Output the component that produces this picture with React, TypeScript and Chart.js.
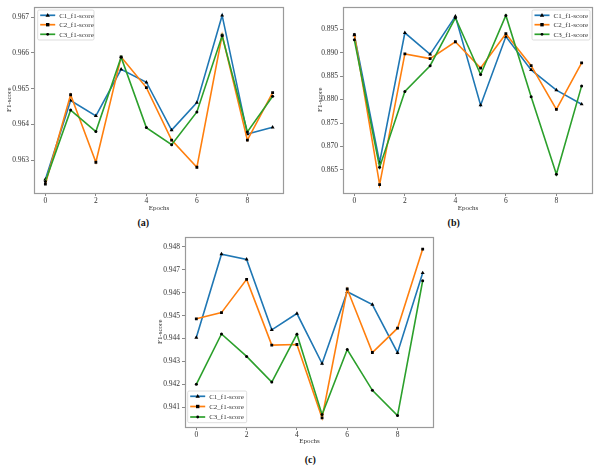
import React, { useEffect, useRef } from "react";
import { Chart, registerables } from "chart.js";

Chart.register(...registerables);

const epochs = [0, 1, 2, 3, 4, 5, 6, 7, 8, 9];
const xTicks = [0, 2, 4, 6, 8];
const seriesNames = ["C1_f1-score", "C2_f1-score", "C3_f1-score"];
const seriesColors = ["#1f77b4", "#ff7f0e", "#2ca02c"];
const seriesMarkers = ["triangle", "rect", "circle"];

// Panel (a)
const aC1 = [0.96246, 0.96467, 0.96424, 0.96554, 0.96518, 0.96384, 0.96461, 0.96705, 0.96373, 0.96392];
const aC2 = [0.96233, 0.96483, 0.96294, 0.96589, 0.96503, 0.96356, 0.9628, 0.9665, 0.96356, 0.96489];
const aC3 = [0.9624, 0.9644, 0.9638, 0.96588, 0.96391, 0.96343, 0.96435, 0.96648, 0.96379, 0.96479];
const aYTicks = [0.963, 0.964, 0.965, 0.966, 0.967];

// Panel (b)
const bC1 = [0.8937, 0.8666, 0.8942, 0.8896, 0.8977, 0.8788, 0.8934, 0.8863, 0.882, 0.879];
const bC2 = [0.8938, 0.8619, 0.8897, 0.8887, 0.8923, 0.8867, 0.894, 0.8872, 0.8779, 0.8878];
const bC3 = [0.8927, 0.8656, 0.8817, 0.8872, 0.8974, 0.8853, 0.8979, 0.8806, 0.8641, 0.8829];
const bYTicks = [0.865, 0.87, 0.875, 0.88, 0.885, 0.89, 0.895];

// Panel (c)
const cC1 = [0.94404, 0.94768, 0.94745, 0.94438, 0.94509, 0.94291, 0.94604, 0.94548, 0.94338, 0.94686];
const cC2 = [0.94486, 0.94513, 0.94658, 0.94371, 0.94374, 0.94054, 0.94616, 0.94339, 0.94445, 0.9479];
const cC3 = [0.942, 0.9442, 0.94322, 0.9421, 0.94419, 0.94068, 0.94352, 0.94174, 0.94064, 0.94652];
const cYTicks = [0.941, 0.942, 0.943, 0.944, 0.945, 0.946, 0.947, 0.948];

const FONT = '"Liberation Serif", "Times New Roman", Times, serif';

type Box = { x: number; y: number; w: number; h: number };
type Area = { left: number; top: number; right: number; bottom: number };
type Leg = { x: number; y: number; w: number; h: number; rowY: number[] };

function drawMarker(ctx: CanvasRenderingContext2D, style: string, x: number, y: number) {
  ctx.fillStyle = "#000";
  ctx.beginPath();
  if (style === "triangle") {
    const r = 2.3;
    ctx.moveTo(x, y - r);
    ctx.lineTo(x + r * 0.95, y + r * 0.6);
    ctx.lineTo(x - r * 0.95, y + r * 0.6);
    ctx.closePath();
  } else if (style === "rect") {
    ctx.rect(x - 1.7, y - 1.7, 3.4, 3.4);
  } else {
    ctx.arc(x, y, 1.4, 0, Math.PI * 2);
  }
  ctx.fill();
}

function Panel(props: {
  box: Box;
  area: Area;
  series: number[][];
  yMin: number;
  yMax: number;
  yTicks: number[];
  yTitlePad: number;
  legend: Leg;
}) {
  const ref = useRef<HTMLCanvasElement>(null);
  const { box, area, series, yMin, yMax, yTicks, yTitlePad, legend } = props;

  useEffect(() => {
    if (!ref.current) return;
    const W = box.w;
    const H = box.h;
    let chart: Chart | null = null;
    let cancelled = false;
    const framePlugin = {
      id: "frameLegend",
      afterDatasetsDraw(c: any) {
        const { ctx, chartArea: ca } = c;
        ctx.save();
        ctx.strokeStyle = "#9a9a9a";
        ctx.lineWidth = 1.2;
        ctx.strokeRect(
          Math.round(ca.left) + 0.5,
          Math.round(ca.top) + 0.5,
          Math.round(ca.right - ca.left) - 1,
          Math.round(ca.bottom - ca.top) - 1
        );
        const L = legend;
        ctx.fillStyle = "rgba(255,255,255,0.85)";
        ctx.strokeStyle = "#d4d4d4";
        ctx.lineWidth = 0.8;
        const r = 1.5;
        ctx.beginPath();
        ctx.moveTo(L.x + r, L.y);
        ctx.lineTo(L.x + L.w - r, L.y);
        ctx.quadraticCurveTo(L.x + L.w, L.y, L.x + L.w, L.y + r);
        ctx.lineTo(L.x + L.w, L.y + L.h - r);
        ctx.quadraticCurveTo(L.x + L.w, L.y + L.h, L.x + L.w - r, L.y + L.h);
        ctx.lineTo(L.x + r, L.y + L.h);
        ctx.quadraticCurveTo(L.x, L.y + L.h, L.x, L.y + L.h - r);
        ctx.lineTo(L.x, L.y + r);
        ctx.quadraticCurveTo(L.x, L.y, L.x + r, L.y);
        ctx.closePath();
        ctx.fill();
        ctx.stroke();
        for (let i = 0; i < seriesNames.length; i++) {
          const yy = L.y + L.rowY[i];
          ctx.strokeStyle = seriesColors[i];
          ctx.lineWidth = 1.7;
          ctx.beginPath();
          ctx.moveTo(L.x + 2.5, yy);
          ctx.lineTo(L.x + 17.5, yy);
          ctx.stroke();
          drawMarker(ctx, seriesMarkers[i], L.x + 10, yy);
          ctx.fillStyle = "#333";
          ctx.font = `7px ${FONT}`;
          ctx.textBaseline = "middle";
          ctx.textAlign = "left";
          ctx.fillText(seriesNames[i], L.x + 21.5, yy + 0.5);
        }
        ctx.restore();
      },
    };

    const build = () => {
      if (cancelled || !ref.current) return;
      chart = new Chart(ref.current, {
        type: "line",
        data: {
          datasets: series.map((vals, i) => ({
            label: seriesNames[i],
            data: epochs.map((e, j) => ({ x: e, y: vals[j] })),
            borderColor: seriesColors[i],
            backgroundColor: seriesColors[i],
            borderWidth: 1.6,
            pointStyle: seriesMarkers[i] as any,
            pointRadius: i === 0 ? 2.3 : i === 1 ? 2 : 1.5,
            pointBackgroundColor: "#000",
            pointBorderColor: "#000",
            pointBorderWidth: 0,
            tension: 0,
            fill: false,
            order: 3 - i,
          })),
        },
        options: {
          responsive: false,
          animation: false,
          events: [],
          layout: {
            padding: { left: 0, top: area.top, right: W - area.right, bottom: 0 },
          },
          plugins: {
            legend: { display: false },
            tooltip: { enabled: false },
            title: { display: false },
          },
          scales: {
            x: {
              type: "linear",
              min: -0.45,
              max: 9.45,
              afterBuildTicks: (s: any) => {
                s.ticks = xTicks.map((v) => ({ value: v }));
              },
              afterFit: (s: any) => {
                s.height = H - area.bottom;
              },
              grid: {
                display: true,
                drawOnChartArea: false,
                drawTicks: true,
                tickLength: 3,
                color: "#888",
              },
              border: { display: false },
              ticks: {
                padding: 1,
                color: "#333",
                font: { family: FONT, size: 7.5 },
                maxRotation: 0,
                callback: (v: any) => String(v),
              },
              title: {
                display: true,
                text: "Epochs",
                color: "#333",
                font: { family: FONT, size: 7 },
                padding: { top: 0, bottom: 2.8 },
              },
            },
            y: {
              type: "linear",
              min: yMin,
              max: yMax,
              afterBuildTicks: (s: any) => {
                s.ticks = yTicks.map((v) => ({ value: v }));
              },
              afterFit: (s: any) => {
                s.width = area.left;
              },
              grid: {
                display: true,
                drawOnChartArea: false,
                drawTicks: true,
                tickLength: 3,
                color: "#888",
              },
              border: { display: false },
              ticks: {
                padding: 2,
                color: "#333",
                font: { family: FONT, size: 7.5 },
                callback: (v: any) => Number(v).toFixed(3),
              },
              title: {
                display: true,
                text: "F1-score",
                color: "#333",
                font: { family: FONT, size: 7 },
                padding: { top: yTitlePad, bottom: 0 },
              },
            },
          },
        },
        plugins: [framePlugin],
      });
    };

    const fonts: any = (document as any).fonts;
    if (fonts && fonts.load) {
      Promise.all([
        fonts.load('7px "Liberation Serif"'),
        fonts.load('bold 7px "Liberation Serif"'),
      ])
        .catch(() => null)
        .then(build);
    } else {
      build();
    }
    return () => {
      cancelled = true;
      if (chart) chart.destroy();
    };
  }, []);

  return (
    <canvas
      ref={ref}
      width={box.w}
      height={box.h}
      style={{ position: "absolute", left: box.x, top: box.y, width: box.w, height: box.h }}
    />
  );
}

const labelStyle = (x: number, y: number): React.CSSProperties => ({
  position: "absolute",
  left: x - 20,
  top: y - 6,
  width: 40,
  height: 12,
  lineHeight: "12px",
  textAlign: "center",
  fontFamily: FONT,
  fontWeight: "bold",
  fontSize: 10,
  color: "#111",
});

export default function App() {
  return (
    <div
      style={{
        position: "absolute",
        left: 0,
        top: 0,
        width: 600,
        height: 468,
        background: "#fff",
        overflow: "hidden",
        fontFamily: FONT,
      }}
    >
      <Panel
        box={{ x: 0, y: 0, w: 300, h: 215 }}
        area={{ left: 34, top: 6, right: 284, bottom: 193 }}
        series={[aC1, aC2, aC3]}
        yMin={0.96208}
        yMax={0.9673}
        yTicks={aYTicks}
        yTitlePad={4.8}
        legend={{ x: 37.7, y: 10, w: 56.3, h: 30, rowY: [5.3, 14.7, 24.3] }}
      />
      <Panel
        box={{ x: 300, y: 0, w: 300, h: 215 }}
        area={{ left: 43, top: 6, right: 293, bottom: 193 }}
        series={[bC1, bC2, bC3]}
        yMin={0.8601}
        yMax={0.8998}
        yTicks={bYTicks}
        yTitlePad={15.8}
        legend={{ x: 232, y: 10, w: 58, h: 30, rowY: [5.3, 14.7, 24.3] }}
      />
      <Panel
        box={{ x: 150, y: 230, w: 300, h: 218 }}
        area={{ left: 35, top: 6, right: 284, bottom: 197 }}
        series={[cC1, cC2, cC3]}
        yMin={0.94014}
        yMax={0.94845}
        yTicks={cYTicks}
        yTitlePad={5.8}
        legend={{ x: 37.7, y: 161, w: 59, h: 31.7, rowY: [5.3, 15.5, 26] }}
      />
      <div style={labelStyle(143.3, 223)}>(a)</div>
      <div style={labelStyle(453.7, 223)}>(b)</div>
      <div style={labelStyle(310.3, 460)}>(c)</div>
    </div>
  );
}
